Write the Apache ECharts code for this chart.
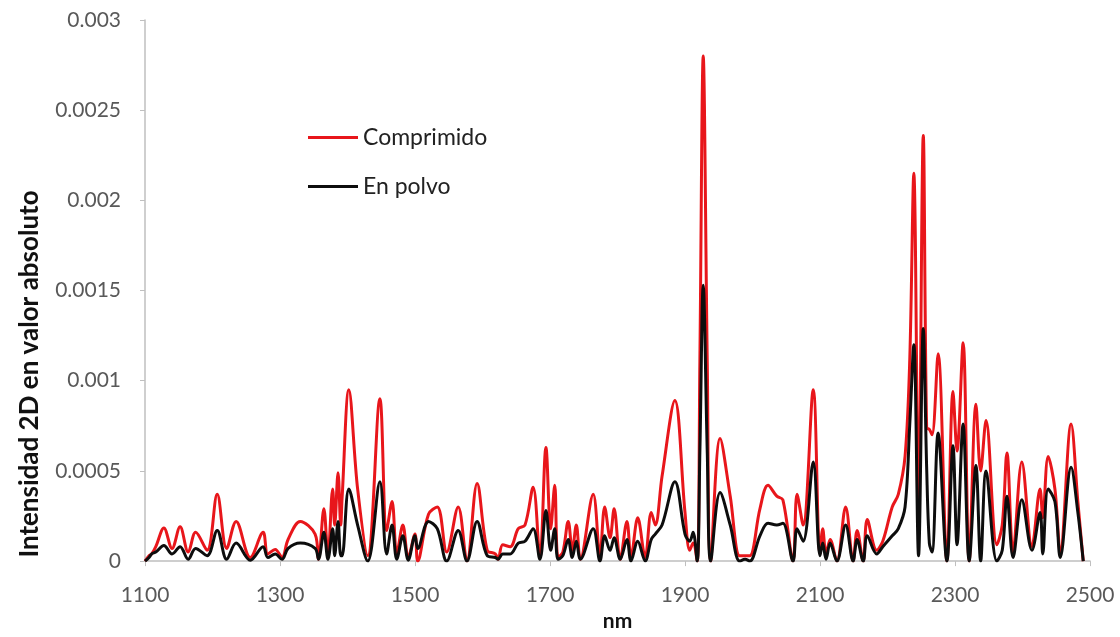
<!DOCTYPE html>
<html>
<head>
<meta charset="utf-8">
<script src="https://cdn.jsdelivr.net/npm/echarts@6/dist/echarts.min.js"></script>
<style>html,body{margin:0;padding:0;background:#fff}#c{width:1120px;height:637px}</style>
</head>
<body>
<div id="c"></div>
<script>
const nm = [1100,1106,1110,1116,1128,1140,1152,1164,1175,1192,1207,1221,1235,1256,1275,1282,1293,1303,1312,1330,1352,1357,1365,1371,1378,1381,1386,1390,1392,1402,1415,1430,1448,1458,1466,1473,1482,1490,1500,1504,1520,1533,1547,1564,1577,1592,1607,1619,1623,1630,1641,1653,1663,1675,1685,1694,1701,1707,1712,1719,1727,1733,1739,1745,1764,1774,1781,1789,1795,1804,1814,1820,1830,1841,1850,1856,1866,1885,1900,1907,1912,1918,1922,1927,1933,1938,1952,1967,1981,1989,1996,2011,2023,2036,2045,2060,2066,2075,2090,2100,2104,2109,2115,2125,2138,2149,2155,2164,2170,2184,2193,2207,2216,2226,2233,2239,2246,2253,2258,2262,2266,2275,2288,2297,2303,2312,2321,2331,2338,2346,2362,2370,2377,2386,2399,2414,2426,2430,2438,2448,2456,2472,2482,2490];
const comprimido = [0,0.00003,0.00004,0.00008,0.000184,0.00007,0.00019,0.00005,0.00016,0.00006,0.00037,0.00007,0.00022,0.00002,0.00016,0.00004,0.000065,0.00002,0.00012,0.00022,0.00015,0.00001,0.00029,0.00003,0.0004,0.0002,0.00049,0.0002,0.00035,0.00095,0.0004,0.00003,0.0009,0.00017,0.00033,0.00004,0.0002,0.00002,0.00015,0.0,0.00026,0.0003,0.00005,0.0003,0,0.00043,0.00006,0.00004,0.00001,0.00009,0.00008,0.00018,0.0002,0.00041,0.00002,0.00063,0.00018,0.00042,0.00002,0.00005,0.00022,0.00006,0.0002,0.00001,0.00037,0.00003,0.0003,0.00013,0.00029,0.00001,0.00022,0.00002,0.00024,0.00002,0.00027,0.0002,0.00047,0.00089,0.00027,0.00006,0.0001,0,0.0011,0.0028,0.0011,0,0.00068,0.00036,0.00003,0.00003,0.00003,0.00029,0.00042,0.00036,0.00034,0,0.00037,0.0002,0.00095,0.00004,0.00018,0.00004,0.00012,0,0.0003,0,0.00017,0,0.00023,0.00006,0.00011,0.0003,0.00037,0.00058,0.00112,0.00215,0.0003,0.00236,0.00074,0.00073,0.0007,0.00115,0,0.00094,0.00061,0.00121,0,0.00087,0.0005,0.00078,0.00009,0.0002,0.0006,0.00005,0.00055,0.00008,0.0004,0.00024,0.00058,0.0004,0.00005,0.00076,0.00033,0];
const enPolvo = [0,0.00002,0.00004,0.00005,0.000087,0.00004,0.00008,0.00001,0.00007,0.00003,0.00017,0.00001,0.0001,0.000005,0.00008,0.00002,0.00004,0.00001,0.00007,0.0001,0.00007,0.00001,0.00016,0.00001,0.00018,0.00003,0.00022,0.00003,0.00003,0.0004,0.0002,0,0.00044,0.00004,0.0002,0.00001,0.00014,0.000005,0.00014,0.00007,0.00022,0.00018,0,0.00017,0,0.00022,0.00003,0.00002,0.00001,0.00004,0.00004,0.0001,0.00011,0.00018,0.00001,0.00028,0.00006,0.00018,0.00001,0.00003,0.00012,0.00002,0.00011,0.00001,0.00018,0,0.00014,0.00006,0.00013,0.00001,0.00012,0,0.00011,0,0.00012,0.00015,0.0002,0.00044,0.00015,0.00011,0.00016,0,0.0006,0.00153,0.0006,0,0.00038,0.0002,0,0.00001,0,0.00014,0.00021,0.0002,0.00021,0,0.00018,0.00011,0.00055,0.00003,0.0001,0.00001,0.0001,0,0.0002,0,0.00012,0,0.00014,0.00004,0.00008,0.00014,0.00018,0.0003,0.00076,0.0012,0.00003,0.00129,0.00052,0.0001,0.00005,0.00071,0,0.00064,0.00009,0.00076,0,0.00053,0,0.0005,0,0.00006,0.00036,0.00002,0.00034,0.00006,0.00027,0.00004,0.0004,0.00033,0.00002,0.00052,0.00027,0];
const xTicks = [1100, 2500, 200];
const yTicks = [0, 0.003, 0.0005];

const pair = (ys) => nm.map((x, i) => [x, ys[i]]);
const chart = echarts.init(document.getElementById('c'), null, {renderer: 'canvas'});
const labelFont = {fontFamily: 'Lato', fontSize: 21, color: '#595959'};
chart.setOption({
  animation: false,
  backgroundColor: '#fff',
  grid: {left: 145, right: 30, top: 20, bottom: 64, containLabel: false},
  legend: {
    data: ['Comprimido', 'En polvo'],
    orient: 'vertical', left: 303, top: 121,
    itemWidth: 50, itemHeight: 3, itemGap: 26, icon: 'rect',
    textStyle: {fontFamily: 'Lato', fontSize: 23, color: '#222'}
  },
  xAxis: {
    type: 'value', min: xTicks[0], max: xTicks[1], interval: xTicks[2],
    name: 'nm', nameLocation: 'middle', nameGap: 47,
    nameTextStyle: {fontFamily: 'Lato', fontSize: 21, fontWeight: 'bold', color: '#111'},
    axisLine: {lineStyle: {color: '#bfbfbf', width: 1.5}},
    axisTick: {show: true, length: 5, lineStyle: {color: '#bfbfbf'}},
    axisLabel: Object.assign({margin: 24, formatter: (v) => String(v)}, labelFont),
    splitLine: {show: false}
  },
  yAxis: {
    type: 'value', min: yTicks[0], max: yTicks[1], interval: yTicks[2],
    axisLine: {show: true, lineStyle: {color: '#bfbfbf', width: 1.5}},
    axisTick: {show: true, length: 5, lineStyle: {color: '#bfbfbf'}},
    axisLabel: Object.assign({margin: 24, formatter: (v) => String(v)}, labelFont),
    splitLine: {show: false}
  },
  graphic: [{
    type: 'text', x: 30, y: 374, rotation: Math.PI / 2,
    style: {text: 'Intensidad 2D en valor absoluto', textAlign: 'center', textVerticalAlign: 'middle',
      font: 'bold 26px Lato', fill: '#111'}
  }],
  series: [
    {name: 'Comprimido', type: 'line', data: pair(comprimido), symbol: 'none', smooth: 0.35,
      lineStyle: {color: '#e8161b', width: 3}, itemStyle: {color: '#e8161b'}, z: 2},
    {name: 'En polvo', type: 'line', data: pair(enPolvo), symbol: 'none', smooth: 0.35,
      lineStyle: {color: '#0d0d0d', width: 3}, itemStyle: {color: '#0d0d0d'}, z: 3}
  ]
});
</script>
</body>
</html>
